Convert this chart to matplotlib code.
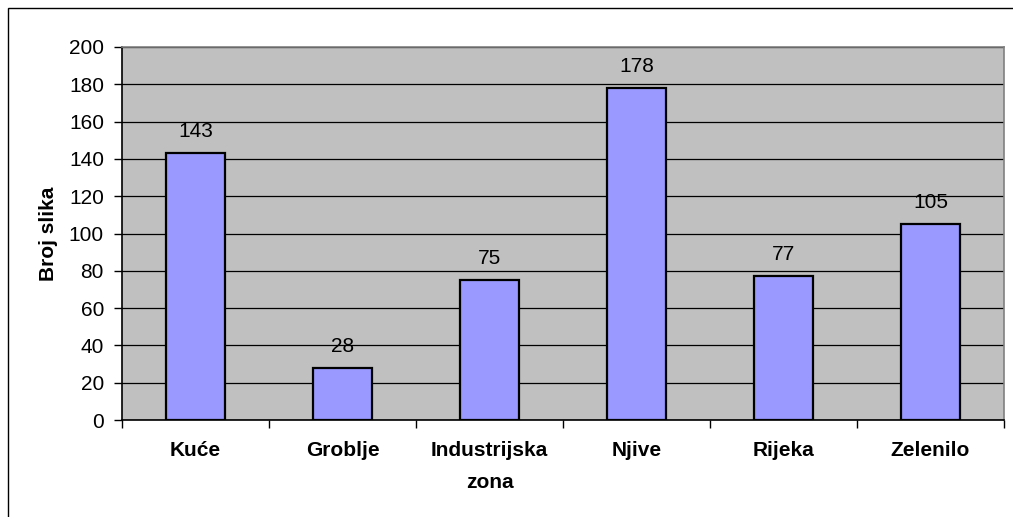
import matplotlib
matplotlib.use("Agg")
import matplotlib.pyplot as plt
from matplotlib.patches import Rectangle

categories = ["Kuće", "Groblje", "Industrijska\nzona", "Njive", "Rijeka", "Zelenilo"]
values = [143, 28, 75, 178, 77, 105]
yticks = [0, 20, 40, 60, 80, 100, 120, 140, 160, 180, 200]

plt.rcParams["font.family"] = ["Liberation Sans", "DejaVu Sans"]

W, H = 1013, 517
FS = 15
fig = plt.figure(figsize=(W / 100, H / 100), dpi=100)

# outer chart frame
fig.patches.append(Rectangle((8 / W, -0.1), 1.2, (H - 8) / H + 0.1,
                             transform=fig.transFigure, fill=False,
                             edgecolor="black", linewidth=1.0))

ax = fig.add_axes([122 / W, (H - 420) / H, (1004 - 122) / W, (420 - 47) / H])
ax.set_facecolor("#C0C0C0")

x = list(range(len(categories)))
ax.bar(x, values, width=0.4, color="#9999FF", edgecolor="black",
       linewidth=1.6, zorder=3)

for xi, v in zip(x, values):
    ax.annotate(str(v), (xi, v), xytext=(0, 11.5), textcoords="offset points",
                ha="center", va="baseline", fontsize=FS, color="black")

ax.set_xlim(-0.5, len(categories) - 0.5)
ax.set_ylim(0, 200)
ax.set_yticks(yticks)
ax.yaxis.grid(True, color="black", linewidth=0.9, zorder=1)
ax.set_axisbelow(True)

ax.set_xticks(x)
ax.set_xticklabels(categories, fontsize=FS, fontweight="bold",
                   linespacing=1.9, va="top")
ax.tick_params(axis="x", length=0, pad=15)
ax.set_xticks([i - 0.5 for i in range(len(categories) + 1)], minor=True)
ax.tick_params(axis="x", which="minor", length=6, width=1, direction="out")
ax.tick_params(axis="y", length=6, width=1, labelsize=FS, pad=7)

for side in ("top", "right"):
    ax.spines[side].set_color("#808080")
    ax.spines[side].set_linewidth(1.2)
for side in ("left", "bottom"):
    ax.spines[side].set_color("black")
    ax.spines[side].set_linewidth(1.2)

fig.text(48 / W, 1 - 234 / H, "Broj slika", rotation=90, ha="center",
         va="center", fontsize=FS, fontweight="bold")

fig.savefig("out.png", dpi=100)
